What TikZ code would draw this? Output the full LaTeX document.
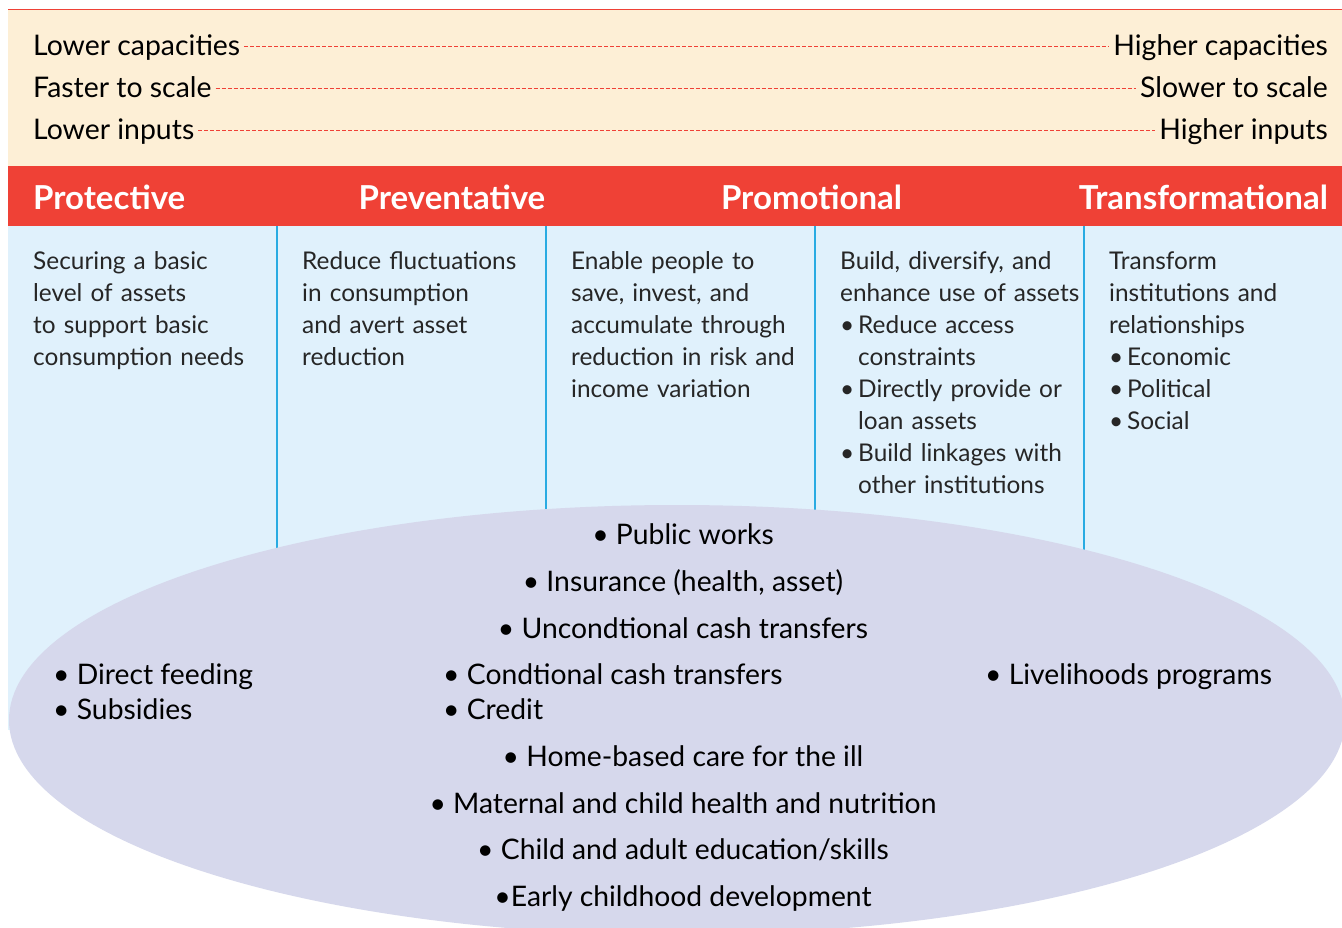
\documentclass[tikz,border=0pt]{standalone}
\usepackage{fontspec}
\setmainfont{Lato}
\definecolor{beige}{RGB}{253,239,214}
\definecolor{hdred}{RGB}{239,65,54}
\definecolor{ltblue}{RGB}{224,241,252}
\definecolor{ellfill}{RGB}{214,216,236}
\definecolor{sepblue}{RGB}{41,171,226}
\begin{document}
\begin{tikzpicture}[x=1pt,y=-1pt,
  toplbl/.style={font=\fontsize{28.4}{32}\selectfont, inner xsep=4pt, inner ysep=0pt, text height=19pt, text depth=0pt},
  dashln/.style={draw=hdred, line width=0.8pt, dash pattern=on 4pt off 2pt},
  hdr/.style={font=\bfseries\fontsize{33}{36}\selectfont, text=white, inner sep=0pt},
  coltxt/.style={font=\fontsize{24.4}{32}\selectfont, text=black!85, inner sep=0pt, align=left, text width=262pt, anchor=base west},
  item/.style={font=\fontsize{28.3}{32}\selectfont, inner sep=0pt},
  sepline/.style={draw=sepblue, line width=1.4pt}]
\useasboundingbox (0,0) rectangle (1342,928);
\fill[white] (0,0) rectangle (1342,928);
% bands
\fill[beige] (8,10) rectangle (1342,166);
\draw[hdred, line width=1pt] (8,10) -- (1342,10);
\fill[hdred] (8,166) rectangle (1342,226);
\fill[ltblue] (8,226) rectangle (1342,730);
% column separators
\coordinate (s1t) at (277,226); \coordinate (s1b) at (277,600);
\coordinate (s2t) at (546,226); \coordinate (s2b) at (546,600);
\coordinate (s3t) at (815,226); \coordinate (s3b) at (815,600);
\coordinate (s4t) at (1084,226); \coordinate (s4b) at (1084,600);
\draw[sepline] (s1t) -- (s1b);
\draw[sepline] (s2t) -- (s2b);
\draw[sepline] (s3t) -- (s3b);
\draw[sepline] (s4t) -- (s4b);
% ellipse
\begin{scope}
\clip (0,0) rectangle (1342,928);
\fill[ellfill] (677,720) ellipse [x radius=668, y radius=215];
\end{scope}
% top scale
\node[toplbl, anchor=base west] (lc) at (29,56) {Lower capacities};
\node[toplbl, anchor=base east] (hc) at (1332,56) {Higher capacities};
\node[toplbl, anchor=base west] (fs) at (29,98) {Faster to scale};
\node[toplbl, anchor=base east] (ss) at (1332,98) {Slower to scale};
\node[toplbl, anchor=base west] (li) at (29,140) {Lower inputs};
\node[toplbl, anchor=base east] (hi) at (1332,140) {Higher inputs};
\draw[dashln] (lc.east) -- (hc.west);
\draw[dashln] (fs.east) -- (ss.west);
\draw[dashln] (li.east) -- (hi.west);
% headers
\node[hdr, anchor=base west] (h1) at (33,210) {Protective};
\node[hdr, anchor=base] (h2) at (452,210) {Preventative};
\node[hdr, anchor=base] (h3) at (811.5,210) {Promotional};
\node[hdr, anchor=base east] (h4) at (1328,210) {Transformational};
% column descriptions
\node[coltxt] (c1) at (33,270) {Securing a basic\\level of assets\\to support basic\\consumption needs};
\node[coltxt] (c2) at (302,270) {Reduce fluctuations\\in consumption\\and avert asset\\reduction};
\node[coltxt] (c3) at (571,270) {Enable people to\\save, invest, and\\accumulate through\\reduction in risk and\\income variation};
\node[coltxt] (c4) at (840,270) {Build, diversify, and\\enhance use of assets\\\makebox[18pt][l]{•}Reduce access\\\hspace*{18pt}constraints\\\makebox[18pt][l]{•}Directly provide or\\\hspace*{18pt}loan assets\\\makebox[18pt][l]{•}Build linkages with\\\hspace*{18pt}other institutions};
\node[coltxt] (c5) at (1109,270) {Transform\\institutions and\\relationships\\\makebox[18pt][l]{•}Economic\\\makebox[18pt][l]{•}Political\\\makebox[18pt][l]{•}Social};
% ellipse items
\node[item, anchor=base] (e1) at (683,544) {• Public works};
\node[item, anchor=base] (e2) at (683,591) {• Insurance (health, asset)};
\node[item, anchor=base] (e3) at (683,638) {• Uncondtional cash transfers};
\node[item, anchor=base west] (e4) at (443,684) {• Condtional cash transfers};
\node[item, anchor=base west] (e5) at (443,719) {• Credit};
\node[item, anchor=base] (e6) at (683,766) {• Home-based care for the ill};
\node[item, anchor=base] (e7) at (683,813) {• Maternal and child health and nutrition};
\node[item, anchor=base] (e8) at (683,859) {• Child and adult education/skills};
\node[item, anchor=base] (e9) at (683,906) {•Early childhood development};
\node[item, anchor=base west] (l1) at (53,684) {• Direct feeding};
\node[item, anchor=base west] (l2) at (53,719) {• Subsidies};
\node[item, anchor=base west] (r1) at (985,684) {• Livelihoods programs};
\end{tikzpicture}
\end{document}
